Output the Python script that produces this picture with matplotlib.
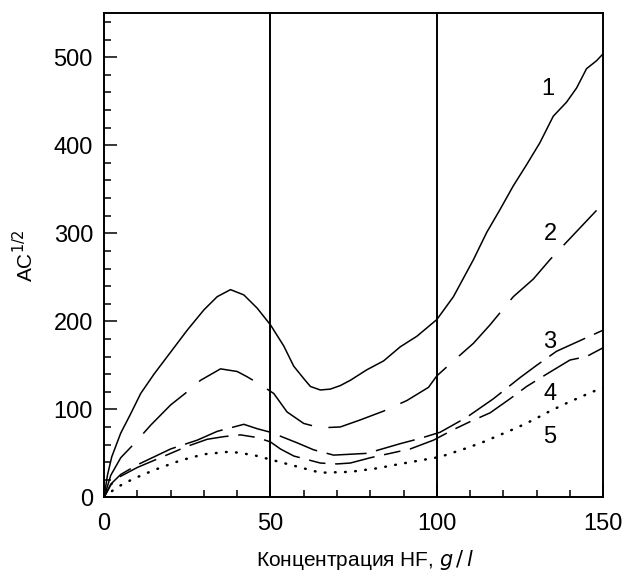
import matplotlib
matplotlib.use('Agg')
import matplotlib.pyplot as plt
from matplotlib.ticker import MultipleLocator

plt.rcParams['font.family'] = ['Liberation Sans', 'DejaVu Sans']
plt.rcParams['lines.scale_dashes'] = False

# curve 1 (solid)
x1 = [0, 1, 2.3, 5, 8, 11, 15, 19, 25, 30, 34, 38, 42, 46, 50, 54, 57, 60, 62, 65,
      68, 71, 74, 79, 84, 89, 94, 100, 105, 111, 115, 119, 123, 127, 131, 135, 139,
      142, 145, 148, 150]
y1 = [0, 25, 46, 73, 95, 118, 140, 160, 190, 213, 228, 236, 230, 215, 196, 172, 149,
      135, 126, 122, 123, 127, 133, 145, 155, 171, 183, 202, 228, 270, 301, 327, 354,
      378, 403, 433, 449, 465, 487, 496, 504]

# curve 2 (long dash)
x2 = [0, 2, 5, 9.3, 14, 20, 25, 29, 35, 40, 43, 47, 51, 55, 60, 65, 71, 77, 84, 91,
      97.5, 100, 105, 111, 116, 123, 129, 134, 141, 148]
y2 = [0, 25, 45, 62, 82, 105, 120, 133, 146, 143, 137, 128, 118, 97, 84, 79, 80, 88,
      98, 110, 125, 138, 155, 175, 196, 228, 248, 270, 298, 326]

# curve 3 (dash)
x3 = [0, 2, 5, 10, 15, 20, 28, 34, 42, 46, 50, 54, 58, 63, 69, 79, 89, 95, 101, 109,
      117, 125, 130, 136, 143, 150]
y3 = [0, 15, 26, 37, 46, 55, 65, 75, 83, 78, 74, 68, 62, 54, 48, 50, 61, 67, 74, 91,
      112, 136, 150, 166, 178, 190]

# curve 4 (dash)
x4 = [0, 2, 5, 10, 15, 20, 25, 31, 36, 41, 46, 50, 53, 57, 61, 65, 70, 74, 80, 86,
      92, 99, 105, 110, 116, 122, 127, 133, 140, 145, 150]
y4 = [0, 14, 24, 34, 42, 50, 58, 66, 69, 71, 68, 63, 55, 47, 43, 39, 38, 39, 45, 50,
      55, 65, 77, 86, 96, 112, 126, 140, 156, 160, 170]

# curve 5 (dotted)
x5 = [0, 3, 6, 10, 15, 23, 30, 38, 45, 51, 58, 65, 74, 82, 89, 95, 101, 109, 114,
      119, 124, 129, 134, 139, 145, 150]
y5 = [0, 9, 16, 23, 31, 42, 49, 52, 48, 42, 35, 28, 29, 33, 38, 42, 46, 56, 63, 71,
      79, 88, 98, 107, 117, 125]

labels = ['1', '2', '3', '4', '5']
label_x = [133.5, 134, 134, 134, 134]
label_y = [464, 299, 177, 117, 69]

fig = plt.figure(figsize=(6.27, 5.75), dpi=100)
ax = fig.add_axes([0.166, 0.135, 0.796, 0.842])

lw = 1.1
ax.plot(x1, y1, color='black', lw=lw)
ax.plot(x2, y2, color='black', lw=lw, dashes=(43, 12))
ax.plot(x3, y3, color='black', lw=lw, dashes=(29, 7))
ax.plot(x4, y4, color='black', lw=lw, dashes=(12, 7, 29, 7))
ax.plot(x5, y5, color='black', lw=1.8, dashes=(0.5, 6.8), dash_capstyle='round')

for xv in [50, 100]:
    ax.axvline(xv, color='black', lw=1.4)

for t, lx, ly in zip(labels, label_x, label_y):
    ax.text(lx, ly, t, fontsize=17, ha='center', va='center')

ax.set_xlim(0, 150)
ax.set_ylim(0, 550)
ax.xaxis.set_major_locator(MultipleLocator(50))
ax.xaxis.set_minor_locator(MultipleLocator(10))
ax.yaxis.set_major_locator(MultipleLocator(100))
ax.yaxis.set_minor_locator(MultipleLocator(20))
ax.tick_params(which='both', direction='in', top=False, right=False, width=1.1)
ax.tick_params(which='major', length=9, labelsize=17, pad=8)
ax.tick_params(axis='x', which='major', pad=11)
ax.tick_params(which='minor', length=5)
for s in ax.spines.values():
    s.set_linewidth(1.4)

ax.set_xlabel('Концентрация HF, $g\\,/\\,l$', fontsize=15)
ax.set_ylabel('AC$^{1/2}$', fontsize=15, labelpad=12)
ax.xaxis.set_label_coords(0.523, -0.104)

fig.savefig('out.png', dpi=100)
